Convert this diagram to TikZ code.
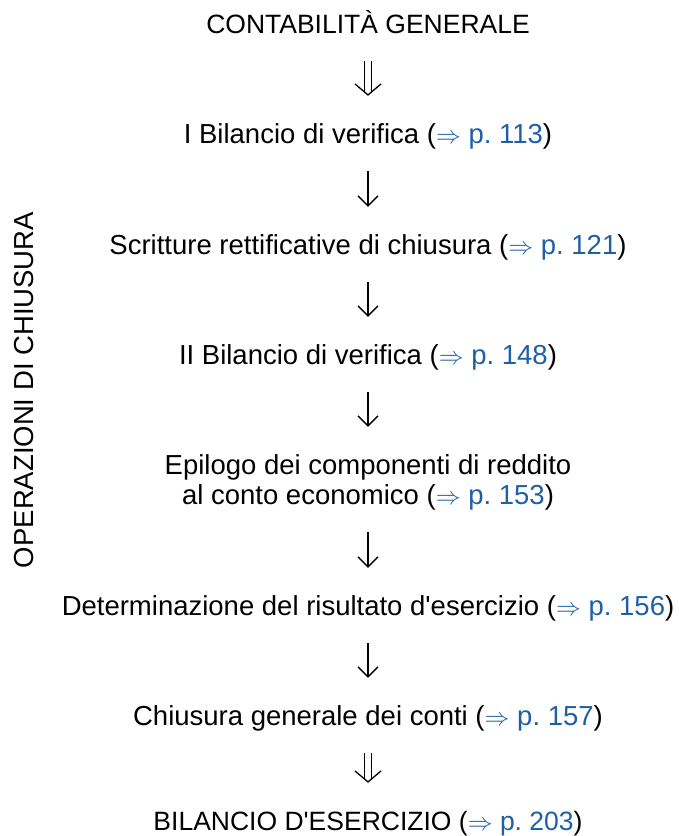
\documentclass[tikz,border=0pt]{standalone}
\usepackage{fontspec}
\setmainfont{Liberation Sans}
\usepackage{tikz}
\usetikzlibrary{arrows.meta,decorations.markings}

\definecolor{rinvio}{RGB}{30,95,165}
\newcommand{\pag}[1]{(\textcolor{rinvio}{$\Rightarrow$ p.~#1})}

\tikzset{
  voce/.style={font=\fontsize{27.5}{30}\selectfont, inner sep=0pt, anchor=base,
               text height=20pt, text depth=6pt},
  titolo/.style={voce, font=\fontsize{26.5}{30}\selectfont},
  freccia/.style={-{Straight Barb[length=10pt,width=20pt]}, line width=1.3pt,
                  shorten <=22pt, shorten >=27pt},
  doppia/.style={double, double distance=6pt, line width=1.2pt,
                 shorten <=22pt, shorten >=30pt,
                 decoration={markings, % punta aperta sopra la linea doppia
                   mark=at position -27pt with {\arrow{Straight Barb[length=11pt,width=26pt,line width=1.3pt]}}},
                 postaction={decorate}}
}

\begin{document}
\begin{tikzpicture}[x=1pt,y=-1pt]
  \useasboundingbox (0,0) rectangle (678,836);

  % Voci
  \node[titolo] (cont) at (368,33)  {CONTABILIT\`A GENERALE};
  \node[voce] (bv1)   at (368,143) {I Bilancio di verifica \pag{113}};
  \node[voce] (rett)  at (368,254) {Scritture rettificative di chiusura \pag{121}};
  \node[voce] (bv2)   at (368,364) {II Bilancio di verifica \pag{148}};
  \node[voce, align=center, text height=50pt] (epil) at (368,504)
        {Epilogo dei componenti di reddito\\ al conto economico \pag{153}};
  \node[voce] (ris)   at (368,615) {Determinazione del risultato d\textquotesingle esercizio \pag{156}};
  \node[voce] (chius) at (368,725) {Chiusura generale dei conti \pag{157}};
  \node[titolo] (bil) at (368,830) {BILANCIO D\textquotesingle ESERCIZIO \pag{203}};

  % Etichetta laterale
  \node[font=\fontsize{27.5}{30}\selectfont, inner sep=0pt, rotate=90] (oper) at (24,390)
        {OPERAZIONI DI CHIUSURA};

  % Frecce
  \draw[doppia]  (cont)  -- (bv1);
  \draw[freccia] (bv1)   -- (rett);
  \draw[freccia] (rett)  -- (bv2);
  \draw[freccia] (bv2)   -- (epil);
  \draw[freccia] (epil)  -- (ris);
  \draw[freccia] (ris)   -- (chius);
  \draw[doppia]  (chius) -- (bil);
\end{tikzpicture}
\end{document}
